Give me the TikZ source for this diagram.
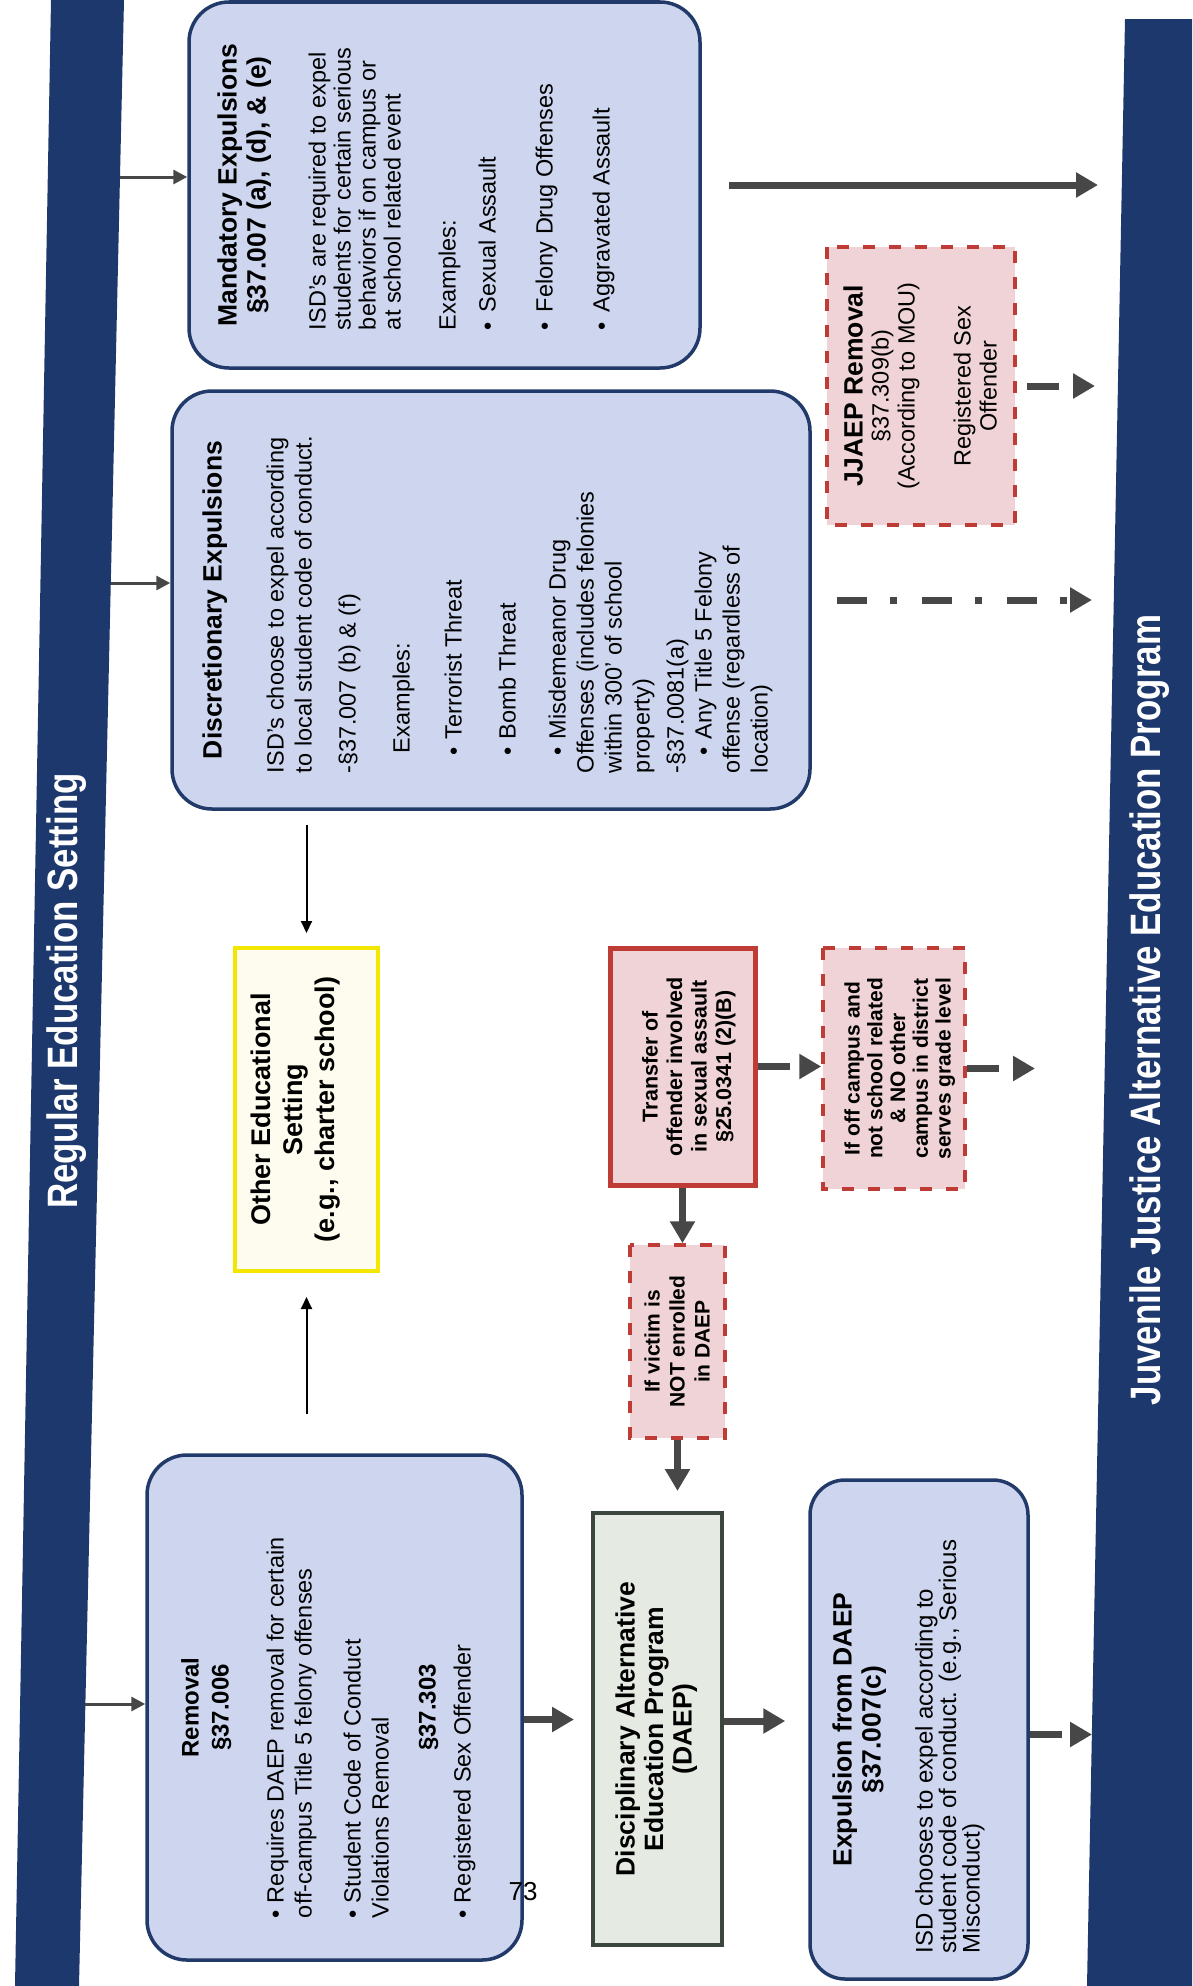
\documentclass[tikz,border=0pt]{standalone}
\usepackage{fontspec}
\setmainfont{Liberation Sans}
\newfontfamily\barfont[FakeStretch=0.82]{Liberation Sans}
\usetikzlibrary{arrows.meta,calc}

\definecolor{barblue}{HTML}{1D386C}
\definecolor{boxblue}{HTML}{CDD6EE}
\definecolor{boxline}{HTML}{223A6A}
\definecolor{pinkfill}{HTML}{EFD3D6}
\definecolor{redline}{HTML}{BE3B36}
\definecolor{yellowline}{HTML}{F3E600}
\definecolor{creamfill}{HTML}{FDFCEE}
\definecolor{daepline}{HTML}{3B473C}
\definecolor{daepfill}{HTML}{E5EAE2}
\definecolor{arrowgray}{HTML}{474747}

\newlength\bltpre
\newlength\bltbox
\newcommand\bitem[2]{\par\vspace{#1}\hangindent=\dimexpr\bltpre+\bltbox\relax\hangafter=1
  \noindent\hspace*{\bltpre}\makebox[\bltbox][l]{\textbullet}#2}
\newcommand\titlefont{\fontsize{26.5}{29}\selectfont\bfseries}
\newcommand\boxtext[3]{\begin{minipage}[t]{#1}#2\parskip=0pt\parindent=0pt\lineskiplimit=-\maxdimen
  #3\par\end{minipage}}

\begin{document}
\begin{tikzpicture}[
    x=1pt, y=-1pt,
    rnode/.style={rotate=90, inner ysep=0pt},
    bluebox/.style={rnode, draw=boxline, fill=boxblue, line width=3.5pt, rounded corners=40pt},
    redbox/.style={rnode, draw=redline, fill=pinkfill, line width=5pt},
    reddash/.style={rnode, draw=redline, fill=pinkfill, line width=3.5pt, dash pattern=on 12pt off 14pt},
    yellowbox/.style={rnode, draw=yellowline, fill=creamfill, line width=4pt},
    daepbox/.style={rnode, draw=daepline, fill=daepfill, line width=4pt},
    bartext/.style={rotate=90, text=white, font={\barfont\bfseries\fontsize{42.5}{44}\selectfont}},
    fatarrow/.style={arrowgray, line width=7pt, -{Triangle[length=22pt,width=24pt]}},
    dasharrow/.style={fatarrow, dash pattern=on 32pt off 30pt},
    dotarrow/.style={fatarrow, dash pattern=on 30pt off 23pt on 7pt off 25pt},
    barline/.style={arrowgray, line width=3pt, -{Triangle[length=14pt,width=14pt]}},
    thinarrow/.style={black, line width=2pt, -{Triangle[length=12pt,width=11pt]}},
  ]
  \useasboundingbox (0,0) rectangle (1192,1986);

  \fill[barblue] (51,0) -- (124,0) -- (79,1986) -- (15,1986) -- cycle;
  \fill[barblue] (1125,19) -- (1192,19) -- (1192,1986) -- (1087,1986) -- cycle;
  \node[bartext] (regular) at (67,991) {Regular Education Setting};
  \node[bartext] (juvenile) at (1150,1010) {Juvenile Justice Alternative Education Program};

  \coordinate (reg1) at (120,177);
  \coordinate (reg2) at (111,583);
  \coordinate (reg3) at (85,1704);
  \coordinate (jj1) at (1098,185);
  \coordinate (jj2) at (1095,386);
  \coordinate (jj3) at (1092,600);
  \coordinate (jj4) at (1035,1068.5);
  \coordinate (jj5) at (1092,1735);

  \node[bluebox, inner xsep=38pt, text height=47.5pt, text depth=463.5pt] (mand) at (444.5,185) {%
    \boxtext{290pt}{\raggedright}{%
    \fontsize{23.5}{25}\selectfont
    \setlength\bltpre{0pt}\setlength\bltbox{18pt}%
    {\centering\titlefont Mandatory Expulsions\\ §37.007 (a), (d), \& (e)\par}
    \vspace{35pt}
    ISD's are required to expel\\ students for certain serious\\ behaviors if on campus or\\ at school related event\\[30pt]
    Examples:
    \bitem{15pt}{Sexual Assault}
    \bitem{32pt}{Felony Drug Offenses}
    \bitem{32pt}{Aggravated Assault}}};

  \node[bluebox, inner xsep=36pt, text height=49.5pt, text depth=588.5pt] (disc) at (491,600) {%
    \boxtext{346pt}{\raggedright}{%
    \fontsize{23.5}{28}\selectfont
    \setlength\bltpre{18pt}\setlength\bltbox{16pt}%
    {\centering\titlefont Discretionary Expulsions\par}
    \vspace{34pt}
    ISD's choose to expel according\\ to local student code of conduct.\\[16pt]
    -§37.007 (b) \& (f)\\[26pt]
    \hspace*{20pt}Examples:
    \bitem{24pt}{Terrorist Threat}
    \bitem{26pt}{Bomb Threat}
    \bitem{22pt}{Misdemeanor Drug\\ Offenses (includes felonies\\ within 300' of school\\ property)}
    \par\vspace{6pt}
    -§37.0081(a)
    \bitem{0pt}{Any Title 5 Felony\\ offense (regardless of\\ location)}}};

  \node[reddash, inner xsep=10pt, text height=35.5pt, text depth=152.5pt] (jjaep) at (921,386) {%
    \boxtext{258pt}{\centering}{%
    \fontsize{23.5}{26}\selectfont
    {\titlefont JJAEP Removal\par}
    §37.309(b)\\ (According to MOU)\\[30pt] Registered Sex\\ Offender}};

  \node[yellowbox, inner xsep=10pt, text height=35.7pt, text depth=107.3pt] (other) at (306.5,1109.5) {%
    \boxtext{303pt}{\centering}{%
    \fontsize{27}{32}\selectfont\bfseries
    Other Educational\\ Setting\\ (e.g., charter school)}};

  \node[redbox, inner xsep=8pt, text height=47.5pt, text depth=97.5pt] (transfer) at (682.5,1066.5) {%
    \boxtext{221pt}{\centering}{%
    \fontsize{21.5}{24.5}\selectfont\bfseries
    Transfer of\\ offender involved\\ in sexual assault\\ §25.0341 (2)(B)}};

  \node[reddash, inner xsep=8pt, text height=36.5pt, text depth=105.5pt] (offcamp) at (894,1068.5) {%
    \boxtext{225pt}{\centering}{%
    \fontsize{21}{22.8}\selectfont\bfseries
    If off campus and\\ not school related\\ \& NO other\\ campus in district\\ serves grade level}};

  \node[reddash, inner xsep=8pt, text height=29.5pt, text depth=65.5pt] (victim) at (677.5,1341.5) {%
    \boxtext{177pt}{\centering}{%
    \fontsize{21}{25}\selectfont\bfseries
    If victim is\\ NOT enrolled\\ in DAEP}};

  \node[bluebox, inner xsep=42pt, text height=51.6pt, text depth=323.4pt] (removal) at (334.5,1707.5) {%
    \boxtext{421pt}{\raggedright}{%
    \fontsize{23.5}{28}\selectfont
    \setlength\bltpre{0pt}\setlength\bltbox{15pt}%
    {\centering\fontsize{24}{30}\selectfont\bfseries Removal\\ §37.006\par}
    \bitem{27pt}{Requires DAEP removal for certain\\ off-campus Title 5 felony offenses}
    \bitem{21pt}{Student Code of Conduct\\ Violations Removal}
    \par\vspace{19pt}
    {\centering\fontsize{24}{28}\selectfont\bfseries §37.303\par}
    \bitem{7pt}{Registered Sex Offender}}};

  \node[daepbox, inner xsep=10pt, text height=41.5pt, text depth=87.5pt] (daep) at (657.5,1729) {%
    \boxtext{412pt}{\centering}{%
    \fontsize{26.5}{28.5}\selectfont\bfseries
    Disciplinary Alternative\\ Education Program\\ (DAEP)}};

  \node[bluebox, rounded corners=35pt, inner xsep=26pt, text height=41.5pt, text depth=176.5pt] (expul) at (919,1729.5) {%
    \boxtext{447pt}{\raggedright}{%
    \fontsize{24}{23.5}\selectfont
    {\centering\titlefont Expulsion from DAEP\\ §37.007(c)\par}
    \vspace{28.5pt}
    ISD chooses to expel according to\\ student code of conduct. (e.g., Serious\\ Misconduct)}};

  \node (pagenum) at (523,1892) {\fontsize{26}{26}\selectfont 73};

  \draw[barline] (reg1) -- (reg1 -| mand.north);
  \draw[barline] (reg2) -- (reg2 -| disc.north);
  \draw[barline] (reg3) -- (reg3 -| removal.north);

  \draw[fatarrow] ([xshift=27pt]mand.south) -- (mand.south -| jj1);
  \draw[dasharrow] ([xshift=10pt]jjaep.south) -- (jjaep.south -| jj2);
  \draw[dotarrow] ([xshift=25pt]disc.south) -- (disc.south -| jj3);

  \draw[thinarrow] ($(other.east |- disc.west)+(0,14)$) -- ($(other.east)+(0,-13)$);
  \draw[thinarrow] ($(other.west |- removal.east)+(0,-39)$) -- ($(other.west)+(0,24)$);

  \draw[dasharrow] (transfer.south) -- (transfer.south -| offcamp.north);
  \draw[dasharrow] (offcamp.south) -- (offcamp.south -| jj4);
  \draw[fatarrow] (transfer.west) -- (transfer.west |- victim.east);
  \draw[fatarrow] (victim.west) -- ($(victim.west |- daep.east)+(0,-20)$);

  \draw[fatarrow] ($(removal.south)+(0,12)$) -- ($(removal.south -| daep.north)+(-17,12)$);
  \draw[fatarrow] ($(daep.south)+(0,-8)$) -- ($(daep.south -| expul.north)+(-23,-8)$);
  \draw[dasharrow] ([yshift=-5pt]expul.south) -- ([yshift=-5pt]expul.south -| jj5);
\end{tikzpicture}
\end{document}
